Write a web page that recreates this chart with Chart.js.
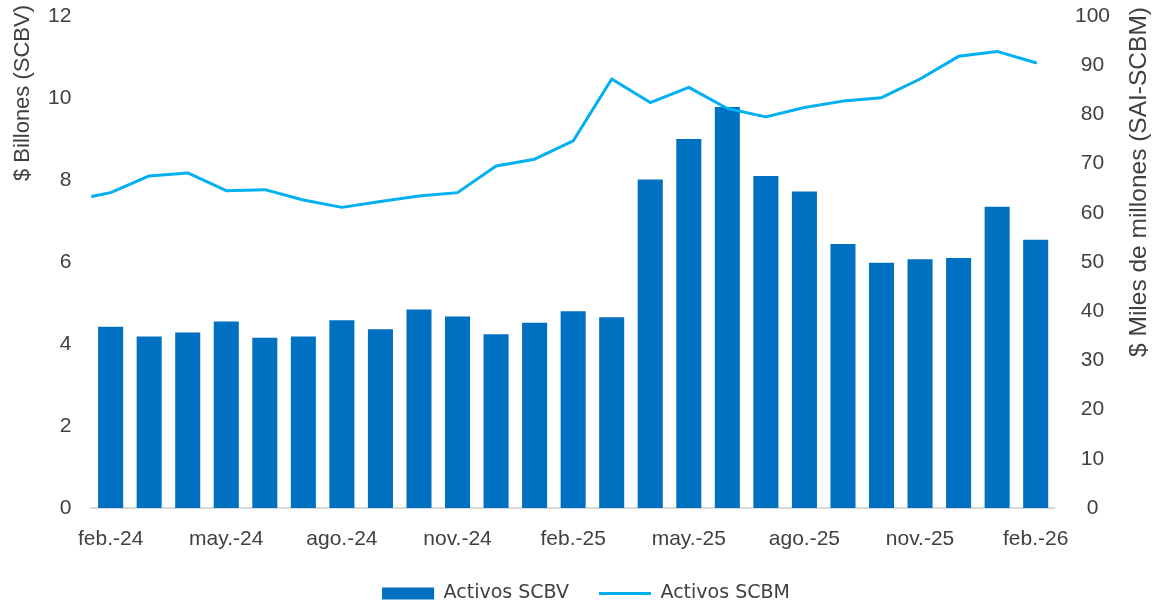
<!DOCTYPE html>
<html>
<head>
<meta charset="utf-8">
<script src="https://cdn.jsdelivr.net/npm/chart.js@4.4.1/dist/chart.umd.min.js"></script>
<style>
  html, body { margin: 0; padding: 0; background: #ffffff; }
  #wrap { width: 1157px; height: 606px; position: relative; }
</style>
</head>
<body>
<div id="wrap"><canvas id="c"></canvas></div>
<script>
// ---- data ----
const months = ['feb.-24','mar.-24','abr.-24','may.-24','jun.-24','jul.-24','ago.-24','sep.-24','oct.-24','nov.-24','dic.-24','ene.-25','feb.-25','mar.-25','abr.-25','may.-25','jun.-25','jul.-25','ago.-25','sep.-25','oct.-25','nov.-25','dic.-25','ene.-26','feb.-26'];
const activosSCBV = [4.42, 4.18, 4.28, 4.55, 4.15, 4.18, 4.58, 4.36, 4.84, 4.67, 4.24, 4.52, 4.80, 4.65, 8.01, 9.00, 9.78, 8.10, 7.72, 6.44, 5.98, 6.07, 6.10, 7.35, 6.54];
// line series starts one month earlier (ene.-24); that first point falls outside the plot and is clipped
const lineMonths = ['ene.-24'].concat(months);
const activosSCBM = [62.5, 64.1, 67.5, 68.1, 64.5, 64.7, 62.6, 61.1, 62.3, 63.4, 64.1, 69.5, 70.9, 74.6, 87.2, 82.4, 85.5, 81.2, 79.5, 81.4, 82.7, 83.4, 87.2, 91.8, 92.8, 90.5];
const leftTicks = [0, 2, 4, 6, 8, 10, 12];
const rightTicks = [0, 10, 20, 30, 40, 50, 60, 70, 80, 90, 100];
const leftTitle = '$ Billones (SCBV)';
const rightTitle = '$ Miles de millones (SAI-SCBM)';
const seriesNames = ['Activos SCBV', 'Activos SCBM'];

// ---- style ----
const TXT = '#404040';
const BAR = '#0070C0';
const LINE = '#00B0F0';
const tickFont = { family: '"Liberation Sans", Arial, sans-serif', size: 21, lineHeight: 1.0 };

// month index relative to the first bar category (ene.-24 -> -1)
const linePoints = lineMonths.map((m, i) => ({ x: months.indexOf(m) === -1 ? -1 : months.indexOf(m), y: activosSCBM[i] }));

const titlesPlugin = {
  id: 'axisTitles',
  afterLayout(chart) {
    // nudge the legend row slightly to the right, as in the reference
    if (chart.legend) { chart.legend.left += 7; chart.legend.right += 7; }
  },
  afterDraw(chart) {
    const ctx = chart.ctx;
    ctx.save();
    ctx.fillStyle = TXT;
    ctx.textAlign = 'center';
    ctx.textBaseline = 'middle';
    ctx.save();
    ctx.font = '22px "Liberation Sans", Arial, sans-serif';
    ctx.translate(23, 93);
    ctx.rotate(-Math.PI / 2);
    ctx.fillText(leftTitle, 0, 0);
    ctx.restore();
    ctx.save();
    ctx.font = '24.5px "Liberation Sans", Arial, sans-serif';
    ctx.translate(1139, 182);
    ctx.rotate(-Math.PI / 2);
    ctx.fillText(rightTitle, 0, 0);
    ctx.restore();
    ctx.restore();
  }
};

const noVertPad = (s) => { s.paddingTop = 0; s.paddingBottom = 0; };

new Chart(document.getElementById('c'), {
  data: {
    labels: months,
    datasets: [
      {
        type: 'bar',
        label: seriesNames[0],
        data: activosSCBV,
        backgroundColor: BAR,
        borderWidth: 0,
        yAxisID: 'y',
        xAxisID: 'x',
        grouped: false,
        categoryPercentage: 1.0,
        barPercentage: 0.65,
        order: 1,
        pointStyle: 'rect'
      },
      {
        type: 'line',
        label: seriesNames[1],
        data: linePoints,
        borderColor: LINE,
        backgroundColor: LINE,
        borderWidth: 3,
        pointRadius: 0,
        tension: 0,
        fill: false,
        yAxisID: 'y2',
        xAxisID: 'xl',
        order: 0,
        pointStyle: 'line',
        borderCapStyle: 'round',
        borderJoinStyle: 'round'
      }
    ]
  },
  options: {
    responsive: true,
    maintainAspectRatio: false,
    animation: false,
    layout: { padding: { left: 28, right: 27, top: 16, bottom: 0 } },
    plugins: {
      tooltip: { enabled: false },
      legend: {
        position: 'bottom',
        maxHeight: 52,
        labels: {
          usePointStyle: true,
          pointStyleWidth: 52,
          boxHeight: 12,
          padding: 30,
          color: TXT,
          font: { family: '"DejaVu Sans", sans-serif', size: 19 },
          sort: (a, b) => a.datasetIndex - b.datasetIndex
        }
      }
    },
    scales: {
      x: {
        type: 'category',
        offset: true,
        grid: { display: false, drawTicks: false },
        border: { display: true, color: '#D9D9D9', width: 2 },
        afterFit: (s) => { s.height = 46; },
        ticks: {
          autoSkip: false,
          maxRotation: 0,
          padding: 21,
          color: TXT,
          font: tickFont,
          callback: function (val, idx) { return idx % 3 === 0 ? this.getLabelForValue(val) : ''; }
        }
      },
      xl: {
        type: 'linear',
        display: false,
        min: -0.5,
        max: months.length - 0.5
      },
      y: {
        position: 'left',
        min: leftTicks[0],
        max: leftTicks[leftTicks.length - 1],
        afterBuildTicks: (s) => { s.ticks = leftTicks.map(v => ({ value: v })); },
        afterFit: noVertPad,
        grid: { display: false, drawTicks: false },
        border: { display: false },
        ticks: { padding: 20, color: TXT, font: tickFont }
      },
      y2: {
        position: 'right',
        min: rightTicks[0],
        max: rightTicks[rightTicks.length - 1],
        afterBuildTicks: (s) => { s.ticks = rightTicks.map(v => ({ value: v })); },
        afterFit: noVertPad,
        grid: { display: false, drawTicks: false },
        border: { display: false },
        ticks: { padding: 20, crossAlign: 'center', color: TXT, font: tickFont }
      }
    }
  },
  plugins: [titlesPlugin]
});
</script>
</body>
</html>
